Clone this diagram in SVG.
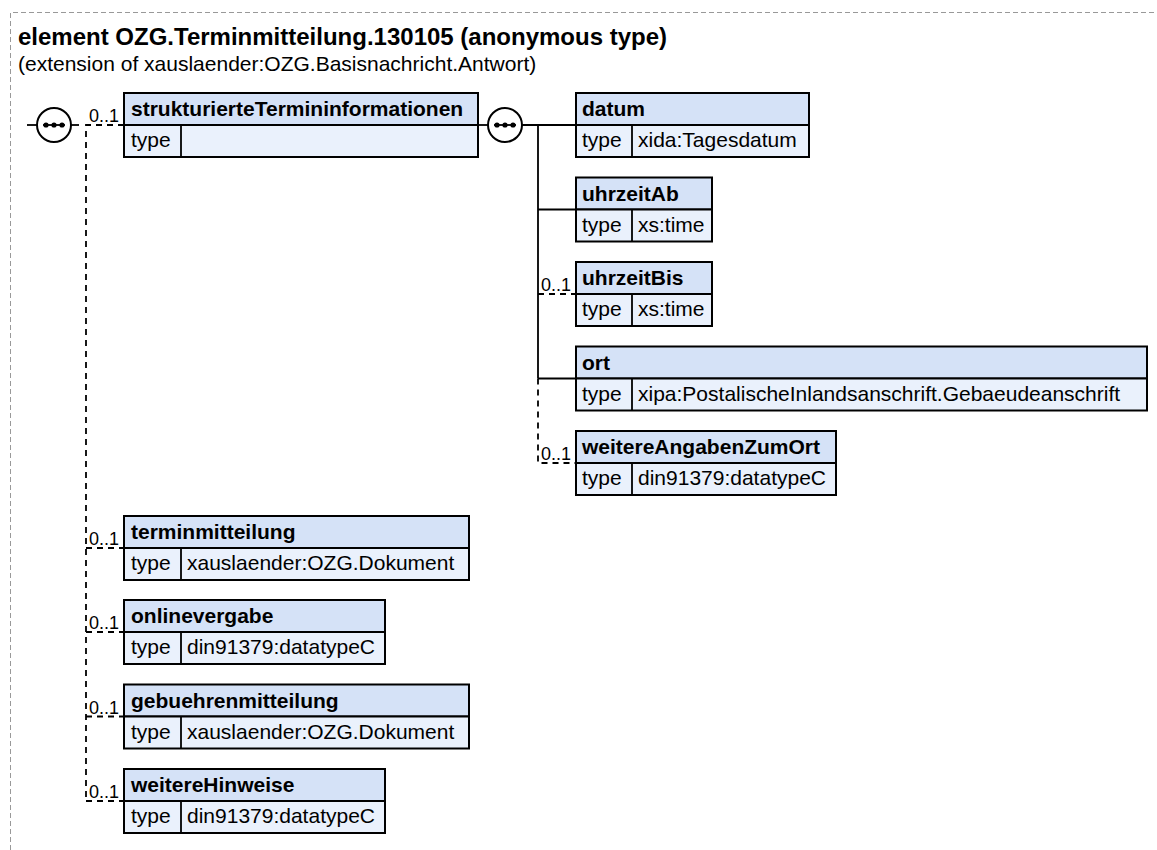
<svg xmlns="http://www.w3.org/2000/svg" width="1157" height="850" viewBox="0 0 1157 850">
<style>
.frame{fill:none;stroke:#999;stroke-width:1;stroke-dasharray:5,3}
.title{font-family:"Liberation Sans",Arial,sans-serif;font-weight:bold;font-size:24px;fill:#000}
.sub{font-family:"Liberation Sans",Arial,sans-serif;font-size:21px;fill:#000}
.hd{fill:#d5e2f7;stroke:#000;stroke-width:2}
.tr{fill:#eaf1fc;stroke:#000;stroke-width:2}
.name{font-family:"Liberation Sans",Arial,sans-serif;font-weight:bold;font-size:21px;fill:#000}
.txt{font-family:"Liberation Sans",Arial,sans-serif;font-size:21px;fill:#000}
.mult{font-family:"Liberation Sans",Arial,sans-serif;font-size:18px;fill:#000}
.ln{fill:none;stroke:#000;stroke-width:1.8}
.dl{fill:none;stroke:#000;stroke-width:1.8;stroke-dasharray:6,5}
.seq{fill:#fff;stroke:#000;stroke-width:2}
</style>
<defs>
<g id="seqicon">
<circle class="seq" cx="0" cy="0" r="17"/>
<line x1="-11" y1="0" x2="11" y2="0" stroke="#000" stroke-width="1.8"/>
<circle cx="-8" cy="0" r="2.6" fill="#000"/>
<circle cx="0" cy="0" r="2.6" fill="#000"/>
<circle cx="8" cy="0" r="2.6" fill="#000"/>
</g>
</defs>
<path class="frame" d="M10.5,850 V12.5 H1157"/>
<text class="title" x="18" y="45">element OZG.Terminmitteilung.130105 (anonymous type)</text>
<text class="sub" x="18" y="71">(extension of xauslaender:OZG.Basisnachricht.Antwort)</text>

<g id="connectors">
<line class="ln" x1="27" y1="125" x2="37" y2="125"/>
<line class="ln" x1="71" y1="125" x2="79" y2="125"/>
<path class="dl" d="M124,125 H86 V801"/>
<path class="dl" d="M86,548 H124 M86,632 H124 M86,716.5 H124 M86,801 H124"/>
<line class="ln" x1="478" y1="125" x2="488" y2="125"/>
<line class="ln" x1="522" y1="125" x2="576" y2="125"/>
<path class="ln" d="M538,125 V378.5 M538,209.5 H576 M538,378.5 H576"/>
<path class="dl" d="M538,294 H576 M538,378.5 V463 H576"/>
<use href="#seqicon" x="54" y="125"/>
<use href="#seqicon" x="505" y="125"/>
<text class="mult" x="89" y="122">0..1</text>
<text class="mult" x="89" y="545">0..1</text>
<text class="mult" x="89" y="629">0..1</text>
<text class="mult" x="89" y="713.5">0..1</text>
<text class="mult" x="89" y="798">0..1</text>
<text class="mult" x="541" y="291">0..1</text>
<text class="mult" x="541" y="460">0..1</text>
</g>

<g id="strukturierteTermininformationen">
<rect class="hd" x="124" y="93" width="354" height="32"/>
<rect class="tr" x="124" y="125" width="354" height="32"/>
<line class="ln" x1="181" y1="125" x2="181" y2="157"/>
<text class="name" x="131" y="116">strukturierteTermininformationen</text>
<text class="txt" x="131" y="147">type</text>
</g>

<g id="datum">
<rect class="hd" x="576" y="93" width="233" height="32"/>
<rect class="tr" x="576" y="125" width="233" height="32"/>
<line class="ln" x1="632" y1="125" x2="632" y2="157"/>
<text class="name" x="582" y="116">datum</text>
<text class="txt" x="582" y="147">type</text>
<text class="txt" x="638" y="147">xida:Tagesdatum</text>
</g>

<g id="uhrzeitAb">
<rect class="hd" x="576" y="177.5" width="136" height="32"/>
<rect class="tr" x="576" y="209.5" width="136" height="32"/>
<line class="ln" x1="632" y1="209.5" x2="632" y2="241.5"/>
<text class="name" x="582" y="200.5">uhrzeitAb</text>
<text class="txt" x="582" y="231.5">type</text>
<text class="txt" x="638" y="231.5">xs:time</text>
</g>

<g id="uhrzeitBis">
<rect class="hd" x="576" y="262" width="136" height="32"/>
<rect class="tr" x="576" y="294" width="136" height="32"/>
<line class="ln" x1="632" y1="294" x2="632" y2="326"/>
<text class="name" x="582" y="285">uhrzeitBis</text>
<text class="txt" x="582" y="316">type</text>
<text class="txt" x="638" y="316">xs:time</text>
</g>

<g id="ort">
<rect class="hd" x="576" y="346.5" width="571" height="32"/>
<rect class="tr" x="576" y="378.5" width="571" height="32"/>
<line class="ln" x1="632" y1="378.5" x2="632" y2="410.5"/>
<text class="name" x="582" y="369.5">ort</text>
<text class="txt" x="582" y="400.5">type</text>
<text class="txt" x="638" y="400.5">xipa:PostalischeInlandsanschrift.Gebaeudeanschrift</text>
</g>

<g id="weitereAngabenZumOrt">
<rect class="hd" x="576" y="431" width="260" height="32"/>
<rect class="tr" x="576" y="463" width="260" height="32"/>
<line class="ln" x1="632" y1="463" x2="632" y2="495"/>
<text class="name" x="582" y="454">weitereAngabenZumOrt</text>
<text class="txt" x="582" y="485">type</text>
<text class="txt" x="638" y="485">din91379:datatypeC</text>
</g>

<g id="terminmitteilung">
<rect class="hd" x="124" y="516" width="345" height="32"/>
<rect class="tr" x="124" y="548" width="345" height="32"/>
<line class="ln" x1="181" y1="548" x2="181" y2="580"/>
<text class="name" x="131" y="539">terminmitteilung</text>
<text class="txt" x="131" y="570">type</text>
<text class="txt" x="187" y="570">xauslaender:OZG.Dokument</text>
</g>

<g id="onlinevergabe">
<rect class="hd" x="124" y="600" width="261" height="32"/>
<rect class="tr" x="124" y="632" width="261" height="32"/>
<line class="ln" x1="181" y1="632" x2="181" y2="664"/>
<text class="name" x="131" y="623">onlinevergabe</text>
<text class="txt" x="131" y="654">type</text>
<text class="txt" x="187" y="654">din91379:datatypeC</text>
</g>

<g id="gebuehrenmitteilung">
<rect class="hd" x="124" y="684.5" width="345" height="32"/>
<rect class="tr" x="124" y="716.5" width="345" height="32"/>
<line class="ln" x1="181" y1="716.5" x2="181" y2="748.5"/>
<text class="name" x="131" y="707.5">gebuehrenmitteilung</text>
<text class="txt" x="131" y="738.5">type</text>
<text class="txt" x="187" y="738.5">xauslaender:OZG.Dokument</text>
</g>

<g id="weitereHinweise">
<rect class="hd" x="124" y="769" width="261" height="32"/>
<rect class="tr" x="124" y="801" width="261" height="32"/>
<line class="ln" x1="181" y1="801" x2="181" y2="833"/>
<text class="name" x="131" y="792">weitereHinweise</text>
<text class="txt" x="131" y="823">type</text>
<text class="txt" x="187" y="823">din91379:datatypeC</text>
</g>
</svg>
